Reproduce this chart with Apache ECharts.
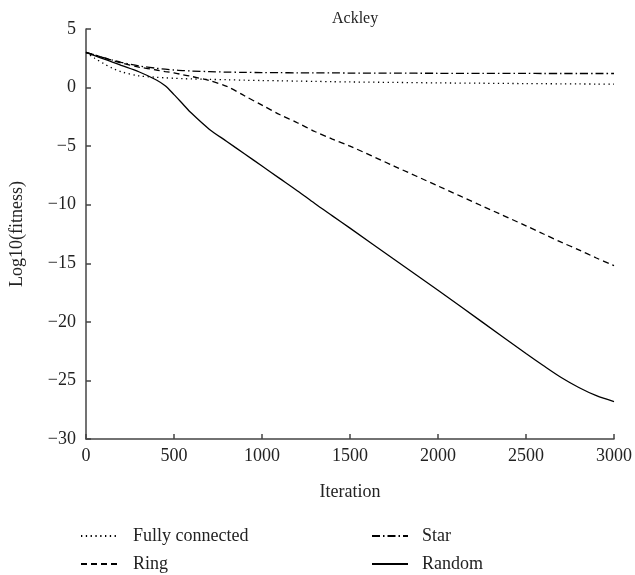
<!DOCTYPE html>
<html>
<head>
<meta charset="utf-8">
<script src="https://cdn.jsdelivr.net/npm/echarts@6/dist/echarts.min.js"></script>
<style>
html, body { margin: 0; padding: 0; background: #fff; }
#chart { width: 635px; height: 575px; }
</style>
</head>
<body>
<div id="chart"></div>
<script>
var iterations = [0, 50, 100, 150, 200, 300, 400, 450, 500, 550, 600, 700, 800, 900, 1000,
    1100, 1200, 1300, 1400, 1500, 1750, 2000, 2250, 2500, 2600, 2700, 2800, 2900, 3000];
var fullyConnected = [3.0, 2.5, 2.05, 1.65, 1.35, 1.0, 0.88, 0.83, 0.79, 0.76, 0.74, 0.7, 0.67, 0.63, 0.6,
    0.58, 0.55, 0.53, 0.5, 0.48, 0.44, 0.4, 0.37, 0.34, 0.33, 0.32, 0.31, 0.3, 0.29];
var ring = [3.0, 2.78, 2.55, 2.32, 2.1, 1.75, 1.5, 1.37, 1.25, 1.1, 0.95, 0.6, 0.1, -0.7, -1.5,
    -2.3, -3.0, -3.75, -4.4, -5.0, -6.7, -8.4, -10.1, -11.8, -12.5, -13.2, -13.85, -14.55, -15.2];
var star = [3.0, 2.78, 2.55, 2.35, 2.15, 1.85, 1.65, 1.57, 1.5, 1.45, 1.41, 1.36, 1.32, 1.3, 1.28,
    1.27, 1.26, 1.25, 1.25, 1.24, 1.23, 1.22, 1.21, 1.21, 1.2, 1.2, 1.2, 1.2, 1.2];
var random = [3.0, 2.72, 2.45, 2.18, 1.9, 1.35, 0.65, 0.15, -0.6, -1.4, -2.2, -3.55, -4.6, -5.65, -6.7,
    -7.75, -8.8, -9.9, -10.95, -12.0, -14.65, -17.3, -20.0, -22.7, -23.75, -24.75, -25.6, -26.3, -26.8];

function pairs(values) {
    var out = [];
    for (var i = 0; i < iterations.length; i++) {
        out.push([iterations[i], values[i]]);
    }
    return out;
}

var font = 'Liberation Serif';
var chart = echarts.init(document.getElementById('chart'));

function makeSeries(name, values, dash) {
    return {
        name: name,
        type: 'line',
        data: pairs(values),
        smooth: 0.3,
        symbol: 'none',
        lineStyle: { color: '#000', width: 1.3, type: dash },
        itemStyle: { color: '#000' }
    };
}

// one legend per entry so the 2x2 layout sits where the original has it
function makeLegend(name, left, top, width) {
    return {
        data: [name],
        left: left,
        top: top,
        padding: 0,
        itemWidth: width,
        itemHeight: 14,
        itemStyle: { opacity: 0 },
        textStyle: { fontFamily: font, fontSize: 18, color: '#222', padding: [0, 0, 0, 9] }
    };
}

chart.setOption({
    animation: false,
    title: {
        text: 'Ackley',
        left: 327,
        top: 6,
        textStyle: { fontFamily: font, fontSize: 16, fontWeight: 'normal', color: '#222' }
    },
    legend: [
        makeLegend('Fully connected', 80, 527, 38),
        makeLegend('Ring', 80, 555, 38),
        makeLegend('Star', 371, 527, 36),
        makeLegend('Random', 371, 555, 36)
    ],
    grid: {
        left: 86,
        right: 21,
        top: 29,
        bottom: 136,
        containLabel: false
    },
    xAxis: {
        type: 'value',
        min: 0,
        max: 3000,
        interval: 500,
        name: 'Iteration',
        nameLocation: 'middle',
        nameGap: 44,
        nameTextStyle: { fontFamily: font, fontSize: 18, color: '#222' },
        axisLine: { onZero: false, lineStyle: { color: '#444', width: 1.5 } },
        axisTick: { inside: true, length: 5, lineStyle: { color: '#444', width: 1.5 } },
        axisLabel: {
            fontFamily: font, fontSize: 18, color: '#222', margin: 8,
            formatter: function (v) { return String(v); }
        },
        splitLine: { show: false }
    },
    yAxis: {
        type: 'value',
        min: -30,
        max: 5,
        interval: 5,
        name: 'Log10(fitness)',
        nameLocation: 'middle',
        nameGap: 60,
        nameTextStyle: { fontFamily: font, fontSize: 18, color: '#222' },
        axisLine: { show: true, onZero: false, lineStyle: { color: '#444', width: 1.5 } },
        axisTick: { show: true, inside: true, length: 5, lineStyle: { color: '#444', width: 1.5 } },
        axisLabel: {
            fontFamily: font, fontSize: 18, color: '#222', margin: 10,
            formatter: function (v) { return v < 0 ? '\u2212' + Math.abs(v) : String(v); }
        },
        splitLine: { show: false }
    },
    series: [
        makeSeries('Fully connected', fullyConnected, [1.3, 3.5]),
        makeSeries('Ring', ring, [6, 4]),
        makeSeries('Star', star, [8, 3, 1.5, 3]),
        makeSeries('Random', random, 'solid')
    ]
});
</script>
</body>
</html>
